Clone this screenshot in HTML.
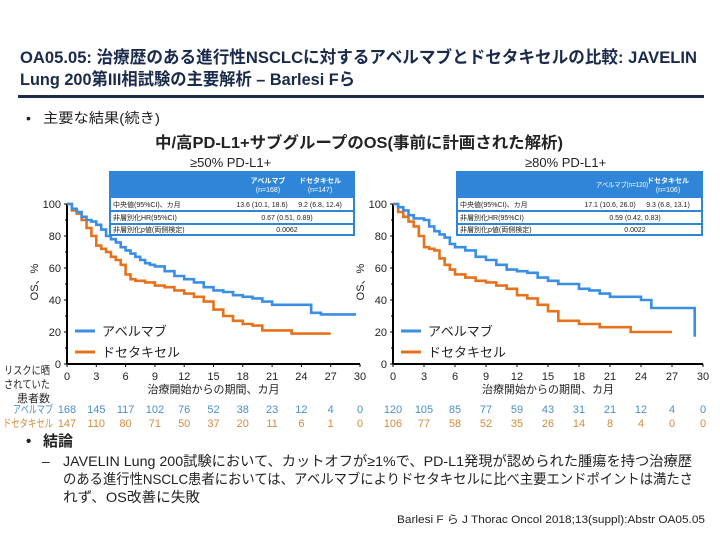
<!DOCTYPE html>
<html><head><meta charset="utf-8">
<style>
html,body{margin:0;padding:0;background:#fff;}
body{width:720px;height:540px;overflow:hidden;font-family:"Liberation Sans","Noto Sans CJK JP",sans-serif;}
svg text{font-family:"Liberation Sans","Noto Sans CJK JP",sans-serif;}
</style></head>
<body>
<svg id="s" width="720" height="540" xmlns="http://www.w3.org/2000/svg">
<text x="20" y="63" font-size="17" font-weight="bold" fill="#1a2a4a" textLength="677" lengthAdjust="spacingAndGlyphs">OA05.05: 治療歴のある進行性NSCLCに対するアベルマブとドセタキセルの比較: JAVELIN</text>
<text x="20" y="85" font-size="17" font-weight="bold" fill="#1a2a4a" textLength="335" lengthAdjust="spacingAndGlyphs">Lung 200第III相試験の主要解析 – Barlesi Fら</text>
<rect x="18" y="95" width="686" height="3" fill="#1a2a4a"/>
<text x="26" y="123" font-size="14" fill="#222">•</text>
<text x="43" y="123" font-size="14" fill="#222" textLength="117" lengthAdjust="spacingAndGlyphs">主要な結果(続き)</text>
<text x="155" y="148" font-size="16" font-weight="bold" fill="#222" textLength="408" lengthAdjust="spacingAndGlyphs">中/高PD-L1+サブグループのOS(事前に計画された解析)</text>
<text x="190" y="167" font-size="13" fill="#222">≥50% PD-L1+</text>
<text x="525" y="167" font-size="13" fill="#222">≥80% PD-L1+</text>
<g id="p1"></g>
<g id="p2"></g>
<text x="4" y="374" font-size="11" fill="#222" textLength="46" lengthAdjust="spacingAndGlyphs">リスクに晒</text>
<text x="4" y="388" font-size="11" fill="#222" textLength="46" lengthAdjust="spacingAndGlyphs">されていた</text>
<text x="17" y="402" font-size="11" fill="#222" textLength="33" lengthAdjust="spacingAndGlyphs">患者数</text>
<text x="13" y="413" font-size="11" fill="#4a90c8" textLength="40" lengthAdjust="spacingAndGlyphs">アベルマブ</text>
<text x="3" y="427" font-size="11" fill="#d68a3a" textLength="50" lengthAdjust="spacingAndGlyphs">ドセタキセル</text>
<text x="26" y="446" font-size="15" font-weight="bold" fill="#222">•</text>
<text x="43" y="446" font-size="15" font-weight="bold" fill="#222">結論</text>
<g font-size="14" fill="#222">
<text x="42" y="466">–</text>
<text x="63" y="466" textLength="629" lengthAdjust="spacingAndGlyphs">JAVELIN Lung 200試験において、カットオフが≥1%で、PD-L1発現が認められた腫瘍を持つ治療歴</text>
<text x="63" y="484" textLength="630" lengthAdjust="spacingAndGlyphs">のある進行性NSCLC患者においては、アベルマブによりドセタキセルに比べ主要エンドポイントは満たさ</text>
<text x="63" y="502" textLength="137" lengthAdjust="spacingAndGlyphs">れず、OS改善に失敗</text>
</g>
<text x="705" y="523" font-size="11" fill="#222" text-anchor="end" textLength="308" lengthAdjust="spacingAndGlyphs">Barlesi F ら J Thorac Oncol 2018;13(suppl):Abstr OA05.05</text>
</svg>
<script>
const ticksX=[0,3,6,9,12,15,18,21,24,27,30];
const ticksY=[0,20,40,60,80,100];
const p1AveT=[0,0.5,1,1.5,2,2.5,3,3.5,4,4.5,5,5.5,6,6.5,7,7.5,8,8.5,9,10,11,12,13,14,15,16,17,18,19,20,21,22,23,24,25,26,27,29.6];
const p1AveV=[100,97,95,92,90,89,87,84,80,78,76,73,71,69,67,65,63,62,61,58,55,53,51,48,46,45,43,42,41,39,37,37,37,37,32,31,31,31];
const p1DocT=[0,0.5,1,1.5,2,2.5,3,3.5,4,4.5,5,5.5,6,6.5,7,8,9,10,11,12,13,14,15,16,17,18,19,20,21,22,23,24,27];
const p1DocV=[100,96,94,90,85,80,74,72,70,67,65,62,56,53,52,51,49,48,46,44,42,39,34,30,27,25,24,21,21,21,19,19,19];
const p2AveT=[0,0.5,1,1.5,2,3,3.5,4,4.5,5,5.5,6,7,8,9,10,11,12,13,14,15,16,17,18,19,20,21,22,23,24,25,27,29.2,29.2];
const p2AveV=[100,98,96,93,91,90,86,83,81,79,75,73,71,67,65,62,59,58,57,54,52,50,50,47,46,44,42,42,42,40,35,35,35,17];
const p2DocT=[0,0.5,1,1.5,2,2.5,3,3.5,4,4.5,5,5.5,6,7,8,9,10,11,12,13,14,15,16,17,18,19,20,21,22,23,24,27];
const p2DocV=[100,95,92,89,86,80,73,72,71,66,62,59,56,54,52,51,49,47,43,41,37,33,27,27,25,25,23,23,23,20,20,20];
const p1RiskAve=[168,145,117,102,76,52,38,23,12,4,0];
const p1RiskDoc=[147,110,80,71,50,37,20,11,6,1,0];
const p2RiskAve=[120,105,85,77,59,43,31,21,12,4,0];
const p2RiskDoc=[106,77,58,52,35,26,14,8,4,0,0];
const p1Tab=["13.6 (10.1, 18.6)","9.2 (6.8, 12.4)","0.67 (0.51, 0.89)","0.0062"];
const p2Tab=["17.1 (10.6, 26.0)","9.3 (6.8, 13.1)","0.59 (0.42, 0.83)","0.0022"];
const BLUE="#3a8ee6",ORANGE="#e8711c",NS="http://www.w3.org/2000/svg";
function mk(parent,tag,attrs,txt){const e=document.createElementNS(NS,tag);for(const k in attrs)e.setAttribute(k,attrs[k]);if(txt!==undefined)e.textContent=txt;parent.appendChild(e);return e;}
function panel(g,x0,x1,tab,tabX0,tabX1,aveT,aveV,docT,docV,rA,rD,nA,nD,twoLineHead){
 const y0=364,y1=204;
 const sx=t=>x0+(x1-x0)*t/30, sy=v=>y0+(y1-y0)*v/100;
 let e=mk(g,'line',{x1:x0,y1:y1,x2:x0,y2:y0,stroke:'#000','stroke-width':2});
 
 e=mk(g,'line',{x1:x0,y1:y0,x2:x1,y2:y0,stroke:'#000','stroke-width':2});
 
 ticksY.forEach(v=>{mk(g,'line',{x1:x0-3,x2:x0,y1:sy(v),y2:sy(v),stroke:'#000'});
  const t=mk(g,'text',{x:x0-6,y:sy(v)+4,'font-size':11,'text-anchor':'end',fill:'#222'},v);
  
  if(v<100){mk(g,'line',{x1:x0-2,x2:x0,y1:sy(v+10),y2:sy(v+10),stroke:'#000'});}});
 ticksX.forEach((v,i)=>{mk(g,'line',{x1:sx(v),x2:sx(v),y1:y0,y2:y0+3,stroke:'#000'});
  const t=mk(g,'text',{x:sx(v),y:380,'font-size':11,'text-anchor':'middle',fill:'#222'},v);
  
  const a=mk(g,'text',{x:sx(v),y:413,'font-size':11,'text-anchor':'middle',fill:'#4a90c8'},rA[i]);
  
  const d=mk(g,'text',{x:sx(v),y:427,'font-size':11,'text-anchor':'middle',fill:'#d68a3a'},rD[i]);
  });
 const xt=mk(g,'text',{x:(x0+x1)/2,y:393,'font-size':11,'text-anchor':'middle',fill:'#222',textLength:132,lengthAdjust:'spacingAndGlyphs'},'治療開始からの期間、カ月');
 
 const yt=mk(g,'text',{transform:`translate(${x0-29},282) rotate(-90)`,'font-size':11,'text-anchor':'middle',fill:'#222'},'OS、%');
 
 function step(T,V,c,name){let d=`M${sx(T[0])},${sy(V[0])}`;for(let i=1;i<T.length;i++){d+=`H${sx(T[i])}V${sy(V[i])}`;}
  const p=mk(g,'path',{d:d,fill:'none',stroke:c,'stroke-width':2.6});
  }
 step(docT,docV,ORANGE,'docetaxel-curve');step(aveT,aveV,BLUE,'avelumab-curve');
 const lx=x0+8;
 mk(g,'line',{x1:lx,x2:lx+20,y1:331,y2:331,stroke:BLUE,'stroke-width':3});
 let l=mk(g,'text',{x:lx+27,y:336,'font-size':13,fill:'#222'},'アベルマブ');
 
 mk(g,'line',{x1:lx,x2:lx+20,y1:352,y2:352,stroke:ORANGE,'stroke-width':3});
 l=mk(g,'text',{x:lx+27,y:357,'font-size':13,fill:'#222'},'ドセタキセル');
 
 const tg=mk(g,'g',{});
 
 mk(tg,'rect',{x:tabX0,y:172,width:tabX1-tabX0,height:63,fill:'#fff',stroke:'#2f86d8','stroke-width':2});
 mk(tg,'rect',{x:tabX0,y:172,width:tabX1-tabX0,height:26,fill:'#2f86d8'});
 [211,224].forEach(y=>mk(tg,'line',{x1:tabX0,x2:tabX1,y1:y,y2:y,stroke:'#2f86d8','stroke-width':2}));
 const c2=tabX1-34, c1=tabX1-100;
 if(twoLineHead){
  mk(tg,'text',{x:c1+14,y:183,'font-size':7,'text-anchor':'middle',fill:'#fff','font-weight':'bold'},'アベルマブ');
  mk(tg,'text',{x:c1+14,y:192,'font-size':7,'text-anchor':'middle',fill:'#fff'},nA);
 } else {
  mk(tg,'text',{x:c1+20,y:187,'font-size':7,'text-anchor':'middle',fill:'#fff',textLength:52,lengthAdjust:'spacingAndGlyphs'},'アベルマブ'+nA);
 }
 mk(tg,'text',{x:c2,y:183,'font-size':7,'text-anchor':'middle',fill:'#fff','font-weight':'bold'},'ドセタキセル');
 mk(tg,'text',{x:c2,y:192,'font-size':7,'text-anchor':'middle',fill:'#fff'},nD);
 const lab=['中央値(95%CI)、カ月','非層別化HR(95%CI)','非層別化p値(両側検定)'];
 [208,221,233].forEach((y,i)=>mk(tg,'text',{x:tabX0+3,y:y-1,'font-size':7,fill:'#222'},lab[i]));
 mk(tg,'text',{x:c1+8,y:207,'font-size':7,'text-anchor':'middle',fill:'#222'},tab[0]);
 mk(tg,'text',{x:c2,y:207,'font-size':7,'text-anchor':'middle',fill:'#222'},tab[1]);
 mk(tg,'text',{x:(c1+c2)/2,y:220,'font-size':7,'text-anchor':'middle',fill:'#222'},tab[2]);
 mk(tg,'text',{x:(c1+c2)/2,y:232,'font-size':7,'text-anchor':'middle',fill:'#222'},tab[3]);
}
panel(document.getElementById('p1'),67,360,p1Tab,110,354,p1AveT,p1AveV,p1DocT,p1DocV,p1RiskAve,p1RiskDoc,'(n=168)','(n=147)',true);
panel(document.getElementById('p2'),393,703,p2Tab,457,702,p2AveT,p2AveV,p2DocT,p2DocV,p2RiskAve,p2RiskDoc,'(n=120)','(n=106)',false);
</script>
</body></html>
